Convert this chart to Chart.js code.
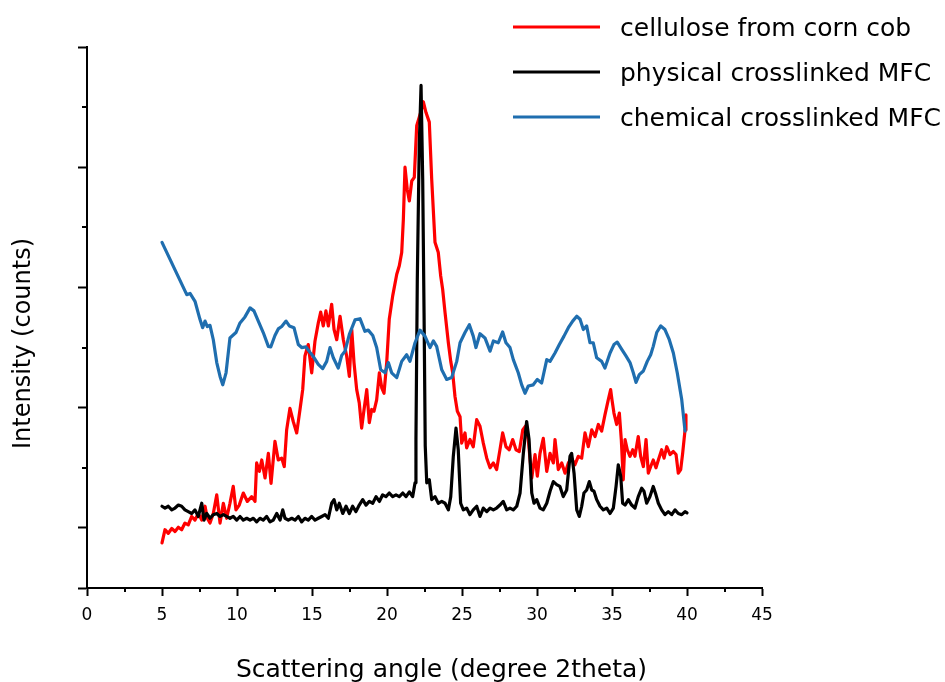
<!DOCTYPE html>
<html>
<head>
<meta charset="utf-8">
<script src="https://cdn.jsdelivr.net/npm/chart.js@4.4.1/dist/chart.umd.min.js"></script>
<style>
html,body{margin:0;padding:0;background:#fff;}
#wrap{position:relative;width:945px;height:682px;}
</style>
</head>
<body>
<div id="wrap"><canvas id="c" width="945" height="682"></canvas></div>
<script>
// ---- data ----
const seriesLabels = ["cellulose from corn cob", "physical crosslinked MFC", "chemical crosslinked MFC"];
const xTitle = "Scattering angle (degree 2theta)";
const yTitle = "Intensity (counts)";
const xMajorTicks = [0,5,10,15,20,25,30,35,40,45];
const xMinorTicks = [2.5,7.5,12.5,17.5,22.5,27.5,32.5,37.5,42.5];
const yMajorTicks = [0,100,300,500,700,900];
const yMinorTicks = [200,400,600,800];

const celluloseX = [5.0,5.2,5.42,5.65,5.87,6.09,6.31,6.53,6.75,6.98,7.2,7.42,7.65,7.87,8.02,8.2,8.42,8.65,8.87,9.09,9.31,9.53,9.75,9.93,10.15,10.42,10.69,10.98,11.2,11.31,11.49,11.65,11.87,12.09,12.27,12.53,12.75,12.98,13.15,13.31,13.53,13.75,13.98,14.2,14.38,14.53,14.75,14.98,15.2,15.42,15.58,15.75,15.93,16.09,16.31,16.47,16.65,16.87,17.09,17.31,17.49,17.65,17.8,17.98,18.15,18.31,18.47,18.65,18.82,18.98,19.13,19.31,19.49,19.65,19.8,19.98,20.15,20.38,20.65,20.82,20.98,21.09,21.2,21.35,21.49,21.65,21.82,21.98,22.15,22.27,22.42,22.6,22.82,22.98,23.2,23.42,23.58,23.71,23.87,24.09,24.25,24.38,24.53,24.69,24.87,24.98,25.2,25.31,25.53,25.75,25.98,26.2,26.42,26.65,26.87,27.09,27.31,27.53,27.71,27.93,28.15,28.38,28.6,28.82,29.05,29.22,29.42,29.65,29.87,30.02,30.2,30.42,30.65,30.87,31.09,31.2,31.42,31.65,31.87,32.09,32.31,32.53,32.75,32.98,33.2,33.42,33.65,33.87,34.09,34.31,34.53,34.75,34.91,35.0,35.13,35.31,35.49,35.62,35.75,35.87,36.02,36.2,36.38,36.53,36.75,36.91,37.09,37.27,37.42,37.58,37.75,37.93,38.09,38.31,38.47,38.65,38.87,39.09,39.27,39.42,39.58,39.71,39.87,39.93];
const celluloseY = [75,97,91,99,94,101,97,108,105,119,113,124,113,136,116,108,124,155,108,141,116,141,169,130,138,158,144,152,144,208,194,213,183,224,174,244,213,216,202,263,299,277,258,297,330,386,405,358,411,441,459,436,461,436,472,430,413,452,413,386,352,430,375,330,308,266,297,330,275,297,294,313,358,333,324,375,447,486,522,536,558,613,700,663,644,677,683,769,783,793,809,791,775,680,575,558,519,497,458,408,377,358,319,294,285,241,258,233,247,235,280,269,241,216,200,208,197,230,258,235,230,247,230,227,263,269,247,183,222,186,224,249,194,224,208,247,197,208,191,208,216,205,219,216,258,235,263,252,272,261,288,313,330,313,291,272,291,247,180,247,230,219,230,219,252,219,202,247,191,202,213,200,213,230,216,235,222,227,222,191,197,224,263,288];

const physicalX = [5.0,5.2,5.42,5.65,5.87,6.09,6.31,6.53,6.75,6.98,7.2,7.42,7.65,7.8,7.98,8.2,8.42,8.65,8.87,9.09,9.31,9.53,9.75,9.98,10.2,10.42,10.65,10.87,11.09,11.31,11.53,11.75,11.98,12.2,12.42,12.65,12.87,13.05,13.2,13.42,13.65,13.87,14.09,14.31,14.53,14.75,14.98,15.2,15.42,15.65,15.87,16.09,16.31,16.47,16.65,16.82,17.05,17.27,17.49,17.71,17.93,18.15,18.38,18.6,18.82,19.05,19.27,19.49,19.71,19.93,20.15,20.38,20.6,20.82,21.05,21.27,21.49,21.71,21.87,21.93,22.02,22.15,22.27,22.38,22.47,22.55,22.65,22.82,22.98,23.2,23.42,23.65,23.87,24.09,24.25,24.42,24.6,24.75,24.91,25.09,25.31,25.53,25.75,25.98,26.2,26.42,26.65,26.87,27.09,27.31,27.53,27.75,27.98,28.2,28.42,28.65,28.87,29.09,29.31,29.47,29.65,29.8,29.98,30.2,30.42,30.65,30.87,31.09,31.31,31.53,31.75,31.98,32.2,32.31,32.47,32.65,32.82,32.98,33.13,33.31,33.49,33.65,33.8,33.98,34.2,34.42,34.65,34.87,35.09,35.27,35.42,35.58,35.71,35.87,36.09,36.31,36.53,36.75,36.98,37.13,37.31,37.53,37.75,37.93,38.09,38.31,38.53,38.75,38.98,39.2,39.42,39.65,39.87,40.0];
const physicalY = [136,133,136,130,133,138,136,130,127,124,130,119,141,113,124,116,122,124,119,122,119,116,119,113,119,113,116,113,116,110,116,113,119,110,113,124,113,130,116,113,116,113,119,110,116,113,119,113,116,119,122,116,141,147,130,141,124,136,124,136,127,138,147,138,144,141,152,144,155,152,158,152,155,152,158,152,160,152,175,247,513,736,836,680,458,236,175,180,147,152,141,144,141,130,152,219,266,230,141,130,133,122,130,136,119,133,127,133,130,133,138,144,130,133,130,136,158,224,277,247,158,141,147,133,130,141,161,177,172,169,152,163,219,224,191,130,119,136,158,163,177,163,161,147,136,130,133,124,133,169,205,186,141,138,147,138,133,152,166,161,141,152,169,155,141,130,122,127,122,130,124,122,127,125];

const chemicalX = [5.0,6.65,6.87,7.2,7.53,7.71,7.87,8.02,8.2,8.42,8.65,8.87,9.05,9.27,9.53,9.71,9.93,10.2,10.53,10.87,11.13,11.42,11.75,12.09,12.25,12.53,12.75,12.98,13.27,13.49,13.8,14.09,14.31,14.6,14.87,15.09,15.42,15.71,15.98,16.2,16.42,16.75,16.98,17.2,17.49,17.87,18.2,18.53,18.75,19.05,19.31,19.58,19.87,20.09,20.31,20.65,20.98,21.31,21.53,21.87,22.2,22.53,22.87,23.09,23.31,23.65,23.98,24.31,24.65,24.87,25.2,25.49,25.75,25.93,26.2,26.53,26.87,27.09,27.42,27.71,27.93,28.2,28.42,28.75,28.98,29.2,29.42,29.75,30.02,30.31,30.65,30.87,31.2,31.49,31.8,32.09,32.38,32.65,32.87,33.09,33.31,33.53,33.75,33.98,34.31,34.53,34.87,35.13,35.35,35.65,35.93,36.2,36.42,36.6,36.82,37.09,37.35,37.58,37.75,37.98,38.25,38.53,38.82,39.09,39.35,39.65,39.87];
const chemicalY = [575,488,490,477,447,433,444,435,437,413,375,352,338,358,416,420,425,441,451,466,461,444,425,402,401,420,431,435,444,436,433,405,400,401,392,385,372,365,377,400,383,366,387,394,422,446,448,427,429,420,400,363,358,375,358,350,377,388,377,408,429,419,400,411,402,363,347,350,377,408,425,438,419,400,423,416,394,411,408,426,408,400,380,358,338,324,336,338,347,341,380,377,391,405,419,433,444,452,447,430,436,408,408,383,377,366,391,405,409,397,386,375,358,342,355,361,377,388,402,425,436,430,413,391,358,313,261];

const seriesColors = ["#ff0000", "#000000", "#1f6eaf"];

// ---- build ----
function pts(xs, ys){ return xs.map((x,i)=>({x:x, y:ys[i]})); }
const seriesData = [pts(celluloseX, celluloseY), pts(physicalX, physicalY), pts(chemicalX, chemicalY)];
const drawOrder = [3, 2, 1];

const FONT = '"DejaVu Sans", sans-serif';

const decor = {
  id: 'decor',
  afterDraw(chart){
    const ctx = chart.ctx, xs = chart.scales.x, ys = chart.scales.y;
    ctx.save();
    ctx.strokeStyle = '#000'; ctx.lineWidth = 2;
    xMinorTicks.forEach(v => {
      const px = Math.round(xs.getPixelForValue(v));
      ctx.beginPath(); ctx.moveTo(px, ys.bottom); ctx.lineTo(px, ys.bottom + 4); ctx.stroke();
    });
    yMinorTicks.forEach(v => {
      const py = Math.round(ys.getPixelForValue(v));
      ctx.beginPath(); ctx.moveTo(xs.left, py); ctx.lineTo(xs.left - 5, py); ctx.stroke();
    });
    // axis titles
    ctx.fillStyle = '#000';
    ctx.font = '25px ' + FONT;
    ctx.textAlign = 'center'; ctx.textBaseline = 'alphabetic';
    ctx.fillText(xTitle, (chart.chartArea.left + chart.chartArea.right) / 2 + 17, 677);
    ctx.save();
    ctx.font = '24px ' + FONT;
    ctx.translate(30, (chart.chartArea.top + chart.chartArea.bottom) / 2 + 26);
    ctx.rotate(-Math.PI / 2);
    ctx.fillText(yTitle, 0, 0);
    ctx.restore();
    // legend
    ctx.textAlign = 'left';
    ctx.font = '25px ' + FONT;
    chart.data.datasets.forEach((ds, i) => {
      const ly = 27 + i * 45;
      ctx.strokeStyle = ds.borderColor; ctx.lineWidth = 3;
      ctx.beginPath(); ctx.moveTo(513, ly); ctx.lineTo(600, ly); ctx.stroke();
      ctx.fillStyle = '#000';
      ctx.fillText(ds.label, 620, ly + 9);
    });
    ctx.restore();
  }
};

new Chart(document.getElementById('c'), {
  type: 'line',
  data: {
    datasets: seriesLabels.map((lab, i) => ({
      label: lab,
      data: seriesData[i],
      borderColor: seriesColors[i],
      backgroundColor: seriesColors[i],
      borderWidth: 3.2,
      pointRadius: 0,
      tension: 0,
      fill: false,
      order: drawOrder[i],
      borderJoinStyle: 'round',
      borderCapStyle: 'round'
    }))
  },
  options: {
    responsive: false,
    animation: false,
    devicePixelRatio: 1,
    layout: { padding: { top: 47, right: 183, bottom: 0, left: 0 } },
    plugins: { legend: { display: false }, tooltip: { enabled: false } },
    scales: {
      x: {
        type: 'linear', position: 'bottom', min: 0, max: 45,
        afterBuildTicks: s => { s.ticks = xMajorTicks.map(v => ({ value: v })); },
        ticks: { color: '#000', font: { family: FONT, size: 17 }, padding: 9, maxRotation: 0, autoSkip: false },
        grid: { drawOnChartArea: false, drawTicks: true, tickLength: 8, tickColor: '#000', tickWidth: 2 },
        border: { display: true, color: '#000', width: 2 },
        afterFit: s => { s.height = 94; }
      },
      y: {
        type: 'linear', position: 'left', min: 0, max: 900,
        afterBuildTicks: s => { s.ticks = yMajorTicks.map(v => ({ value: v })); },
        ticks: { display: false },
        grid: { drawOnChartArea: false, drawTicks: true, tickLength: 9, tickColor: '#000', tickWidth: 2 },
        border: { display: true, color: '#000', width: 2 },
        afterFit: s => { s.width = 87; }
      }
    }
  },
  plugins: [decor]
});
</script>
</body>
</html>
